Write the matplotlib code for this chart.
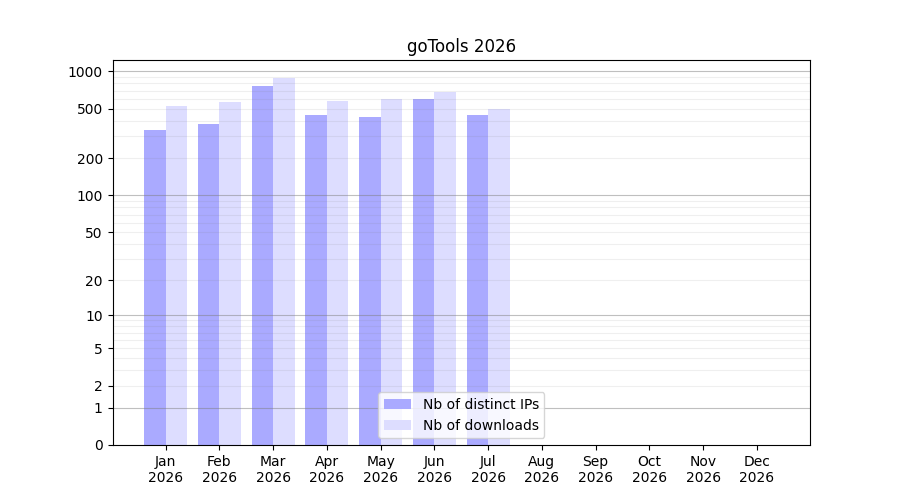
import numpy as np
import matplotlib
matplotlib.use("Agg")
import matplotlib.pyplot as plt

months = ['Jan', 'Feb', 'Mar', 'Apr', 'May', 'Jun', 'Jul', 'Aug', 'Sep', 'Oct', 'Nov', 'Dec']
year = 2026
distinct_ips = [340, 380, 765, 448, 432, 602, 448, 0, 0, 0, 0, 0]
downloads = [530, 572, 880, 582, 603, 688, 502, 0, 0, 0, 0, 0]
ytick_values = [0, 1, 2, 5, 10, 20, 50, 100, 200, 500, 1000]


def forward(v):
    return np.log10(np.maximum(v, 0) + 1)


def inverse(v):
    return 10 ** v - 1


fig, ax = plt.subplots(figsize=(9, 5))
x = np.arange(len(months))
width = 0.4

ax.bar(x - width / 2, distinct_ips, width, color='#aaaaff', label='Nb of distinct IPs')
ax.bar(x + width / 2, downloads, width, color='#ddddff', label='Nb of downloads')

ax.set_yscale('function', functions=(forward, inverse))
# freeze the autoscaled limits before adding the grid lines
ylim = ax.get_ylim()
ax.set_ylim(ylim)
ax.set_yticks(ytick_values)
ax.set_yticklabels([str(v) for v in ytick_values])
ax.minorticks_off()

# decade lines a bit darker, the in-between ones very light
for dec in [1, 10, 100, 1000]:
    ax.axhline(dec, color='gray', alpha=0.5, lw=0.8, zorder=1.5)
    for m in range(2, 10):
        if dec * m < ylim[1]:
            ax.axhline(dec * m, color='gray', alpha=0.12, lw=0.8, zorder=1.5)
ax.set_ylim(ylim)

ax.set_xticks(x)
ax.set_xticklabels([f"{m}\n{year}" for m in months])
ax.set_title(f"goTools {year}")
ax.legend(loc='lower center')

plt.savefig("out.png", dpi=100)
